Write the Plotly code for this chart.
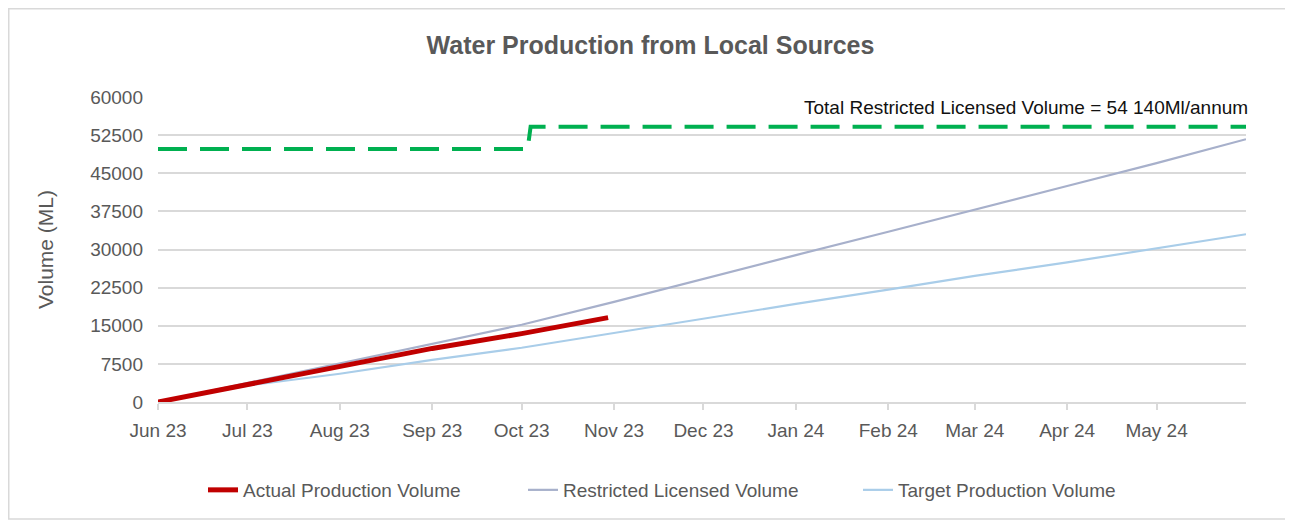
import plotly.graph_objects as go

# ---- data ----
month_dates = ["2023-06-01", "2023-07-01", "2023-08-01", "2023-09-01", "2023-10-01",
               "2023-11-01", "2023-12-01", "2024-01-01", "2024-02-01", "2024-03-01",
               "2024-04-01", "2024-05-01", "2024-05-31"]
restricted_licensed = [0, 3750, 7630, 11500, 15190, 19700, 24250, 28900, 33500, 37900,
                       42500, 47000, 51700]
target_production = [0, 3230, 5560, 8280, 10670, 13600, 16490, 19300, 22120, 24800,
                     27460, 30200, 33000]

actual_dates = ["2023-06-01", "2023-07-01", "2023-08-01", "2023-09-01", "2023-10-01",
                "2023-10-30"]
actual_production = [0, 3430, 7110, 10540, 13450, 16600]

licence_dates = ["2023-06-01", "2023-10-03", "2023-10-04", "2024-05-31"]
licence_total = [49770, 49770, 54140, 54140]

y_ticks = [0, 7500, 15000, 22500, 30000, 37500, 45000, 52500, 60000]

GREY = "#595959"
GRID = "#d9d9d9"
FONT = "Liberation Sans Narrow, Arial Narrow, Liberation Sans, Arial, sans-serif"

W, H = 1285, 513          # page body has an 8px margin
L, R, T, B = 150, 47, 89, 119
PW, PH = W - L - R, H - T - B


def px_x(fx):
    return (fx - L) / PW


def px_y(fy):
    return (H - B - fy) / PH


fig = go.Figure()
fig.add_trace(go.Scatter(x=licence_dates, y=licence_total, mode="lines",
                         line=dict(color="#00B050", width=4, dash="29px,13px"),
                         showlegend=False, hoverinfo="skip"))
fig.add_trace(go.Scatter(x=month_dates, y=target_production, mode="lines",
                         name="Target Production Volume", legend="legend3",
                         line=dict(color="#a9cde9", width=2.2)))
fig.add_trace(go.Scatter(x=month_dates, y=restricted_licensed, mode="lines",
                         name="Restricted Licensed Volume", legend="legend2",
                         line=dict(color="#a7b0cb", width=2.2)))
fig.add_trace(go.Scatter(x=actual_dates, y=actual_production, mode="lines",
                         name="Actual Production Volume", legend="legend",
                         line=dict(color="#C00000", width=5)))

leg_common = dict(orientation="h", xanchor="left", yanchor="middle", y=px_y(482),
                  font=dict(size=19, color=GREY), bgcolor="rgba(0,0,0,0)")

fig.update_layout(
    width=W, height=H,
    margin=dict(l=L, r=R, t=T, b=B),
    paper_bgcolor="white", plot_bgcolor="white",
    font=dict(family=FONT, color=GREY, size=19),
    title=dict(text="<b>Water Production from Local Sources</b>",
               font=dict(family="Liberation Sans, Arial, sans-serif", size=25, color=GREY),
               x=0.5, xanchor="center", y=1 - 37 / H, yanchor="middle"),
    legend=dict(x=px_x(195), **leg_common),
    legend2=dict(x=px_x(515), **leg_common),
    legend3=dict(x=px_x(850), **leg_common),
    showlegend=True,
)
fig.update_xaxes(type="date", range=["2023-06-01", "2024-05-31"],
                 dtick="M1", tick0="2023-06-01", tickformat="%b %y",
                 ticks="outside", ticklen=6, tickcolor=GRID, tickwidth=1.5,
                 ticklabelstandoff=4,
                 showgrid=False, showline=True, linecolor=GRID, linewidth=1.5,
                 tickfont=dict(size=19, color=GREY), zeroline=False)
fig.update_yaxes(range=[0, 60000], tickvals=y_ticks, ticktext=[str(v) for v in y_ticks],
                 showgrid=True, gridcolor=GRID, gridwidth=1.5, zeroline=False,
                 ticks="", ticklabelstandoff=14,
                 tickfont=dict(size=19, color=GREY),
                 title=dict(text="Volume (ML)", font=dict(size=21, color=GREY), standoff=30))

fig.add_annotation(text="Total Restricted Licensed Volume = 54 140Ml/annum",
                   xref="paper", yref="paper", x=1.0, y=px_y(99), xshift=4,
                   xanchor="right", yanchor="middle", showarrow=False,
                   font=dict(size=19, color="#111111"))

# outer chart border
fig.add_shape(type="rect", xref="paper", yref="paper",
              x0=px_x(0.75), x1=px_x(1283), y0=px_y(511), y1=px_y(0.75),
              line=dict(color=GRID, width=1.5), layer="below")

fig.write_html("out.html")
